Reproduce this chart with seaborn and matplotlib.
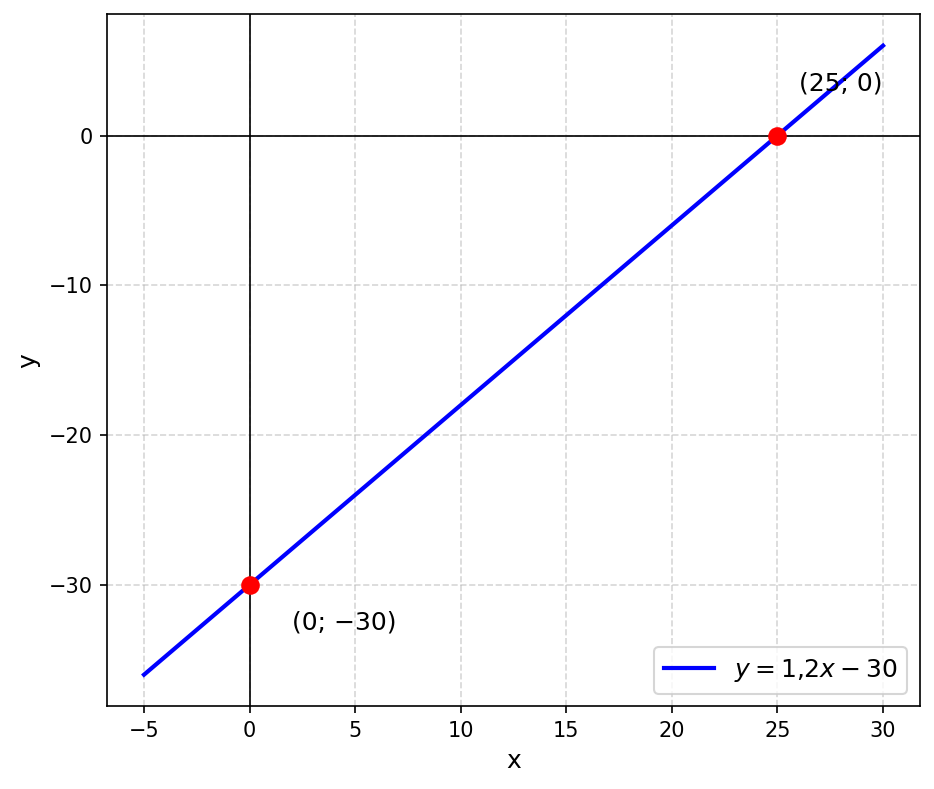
import matplotlib
matplotlib.use("Agg")
import matplotlib.pyplot as plt
import seaborn as sns
import pandas as pd

# data
line_x = [-5, 0, 25, 30]
line_y = [-36, -30, 0, 6]
point_x = [0, 25]
point_y = [-30, 0]
point_labels = ["(0; \u221230)", "(25; 0)"]
label_x = [2, 26]
label_y = [-33, 3]

df = pd.DataFrame({"x": line_x, "y": line_y})

fig, ax = plt.subplots(figsize=(934 / 150, 789 / 150), dpi=150)

sns.lineplot(data=df, x="x", y="y", color="blue", linewidth=2,
             label="$y = 1{,}2x - 30$", ax=ax)
sns.scatterplot(x=point_x, y=point_y, color="red", s=80, zorder=5,
                linewidth=0, ax=ax)

for lx, ly, txt in zip(label_x, label_y, point_labels):
    ax.text(lx, ly, txt, fontsize=12)

ax.axhline(0, color="black", linewidth=0.8)
ax.axvline(0, color="black", linewidth=0.8)
ax.grid(True, linestyle="--", alpha=0.5)
ax.set_xlabel("x", fontsize=12)
ax.set_ylabel("y", fontsize=12)
ax.legend(loc="lower right", fontsize=12)

fig.subplots_adjust(left=0.1146, right=0.985, top=0.982, bottom=0.105)
plt.savefig("out.png", dpi=150)
